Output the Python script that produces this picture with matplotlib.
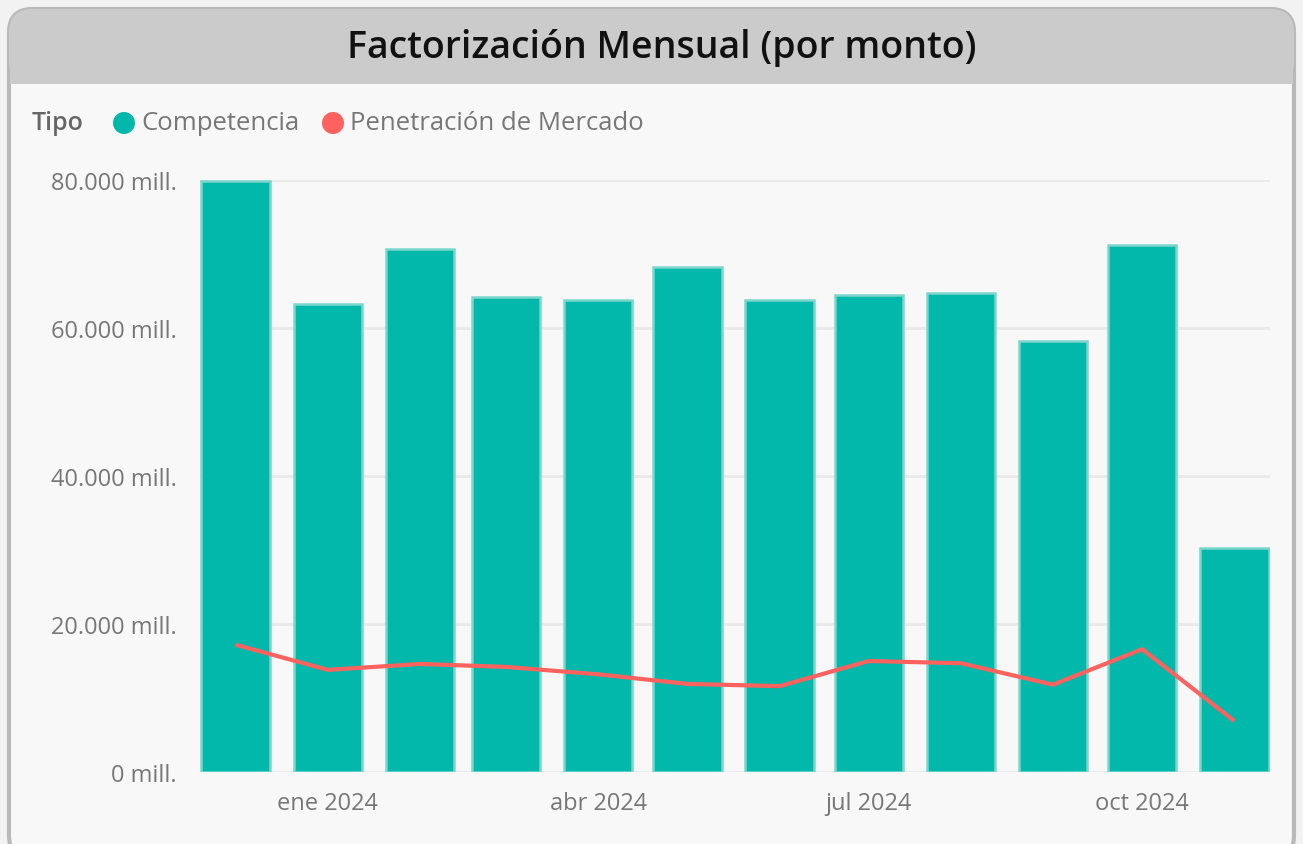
import numpy as np
import pandas as pd
import matplotlib
matplotlib.use("Agg")
import matplotlib.pyplot as plt
from matplotlib.patches import FancyBboxPatch, Rectangle, Ellipse
from matplotlib.ticker import FuncFormatter, FixedLocator

# --- datos (millones) ---
meses = pd.date_range("2023-12-01", "2024-11-01", freq="MS")
competencia = [79800, 63200, 70700, 64200, 63800, 68200, 63800, 64500, 64700, 58200, 71200, 30300]
penetracion = [17200, 13800, 14600, 14200, 13200, 11900, 11600, 15000, 14700, 11800, 16600, 6900]
ticks_fechas = pd.to_datetime(["2024-01-01", "2024-04-01", "2024-07-01", "2024-10-01"])
ticks_texto = ["ene 2024", "abr 2024", "jul 2024", "oct 2024"]

W, H = 1303, 845
plt.rcParams['font.family'] = ['Open Sans', 'DejaVu Sans']

fig = plt.figure(figsize=(W / 100, H / 100), dpi=100)
fig.patch.set_facecolor("#f2f2f2")


def fx(x):
    return x / W


def fy(y):
    return 1 - y / H


# tarjeta
card = FancyBboxPatch((fx(9), fy(860)), fx(1285), fy(10) - fy(860),
                      boxstyle="round,pad=0,rounding_size=0.018",
                      transform=fig.transFigure, facecolor="#f8f8f8",
                      edgecolor="#b9b9b9", linewidth=3, zorder=0, mutation_aspect=W / H)
fig.add_artist(card)
header = FancyBboxPatch((fx(9), fy(85)), fx(1285), fy(10) - fy(85),
                        boxstyle="round,pad=0,rounding_size=0.018",
                        transform=fig.transFigure, facecolor="#cbcbcb",
                        edgecolor="none", zorder=0.5, mutation_aspect=W / H)
fig.add_artist(header)
fig.add_artist(Rectangle((fx(10), fy(85)), fx(1283), fy(60) - fy(85),
                         transform=fig.transFigure, facecolor="#cbcbcb",
                         edgecolor="none", zorder=0.6))

fig.text(fx(662), fy(48), "Factorización Mensual (por monto)", ha="center", va="center",
         fontsize=27, fontweight="semibold", color="#111111", zorder=2)

# leyenda
fig.text(fx(32), fy(124), "Tipo", ha="left", va="center", fontsize=18,
         fontweight="semibold", color="#666666", zorder=2)
for cx, col, txt in [(124, "#01b8aa", "Competencia"), (333, "#fd625e", "Penetración de Mercado")]:
    fig.add_artist(Ellipse((fx(cx), fy(124)), fx(22), 22 / H, transform=fig.transFigure,
                           facecolor=col, edgecolor="none", zorder=2))
    fig.text(fx(cx + 17), fy(124), txt, ha="left", va="center", fontsize=18.5,
             color="#777777", zorder=2)

# ejes
ax = fig.add_axes([fx(200), fy(773), fx(1270) - fx(200), fy(181) - fy(773)])
ax.set_zorder(5)
ax.set_facecolor("none")
ancho = 23
ax.bar(meses, competencia, width=ancho, color="#01b8aa", edgecolor="#7cd6cc",
       linewidth=1.8, zorder=2)
ax.plot(meses, penetracion, color="#fd625e", linewidth=3, zorder=3,
        solid_capstyle="butt", solid_joinstyle="round")

ax.set_ylim(0, 80000)
ax.set_xlim(pd.Timestamp("2023-11-19"), pd.Timestamp("2024-11-13"))
ax.yaxis.set_major_locator(FixedLocator([0, 20000, 40000, 60000, 80000]))
ax.yaxis.set_major_formatter(FuncFormatter(lambda v, p: f"{int(v):,}".replace(",", ".") + " mill."))
ax.set_xticks(ticks_fechas)
ax.set_xticklabels(ticks_texto)
ax.grid(axis="y", color="#e9e9e9", linewidth=2, zorder=0)
ax.set_axisbelow(True)
for s in ax.spines.values():
    s.set_visible(False)
ax.tick_params(axis="both", length=0, labelsize=17, labelcolor="#777777")
ax.tick_params(axis="y", pad=17)
ax.tick_params(axis="x", pad=14)

fig.savefig("out.png", dpi=100, facecolor=fig.get_facecolor())
